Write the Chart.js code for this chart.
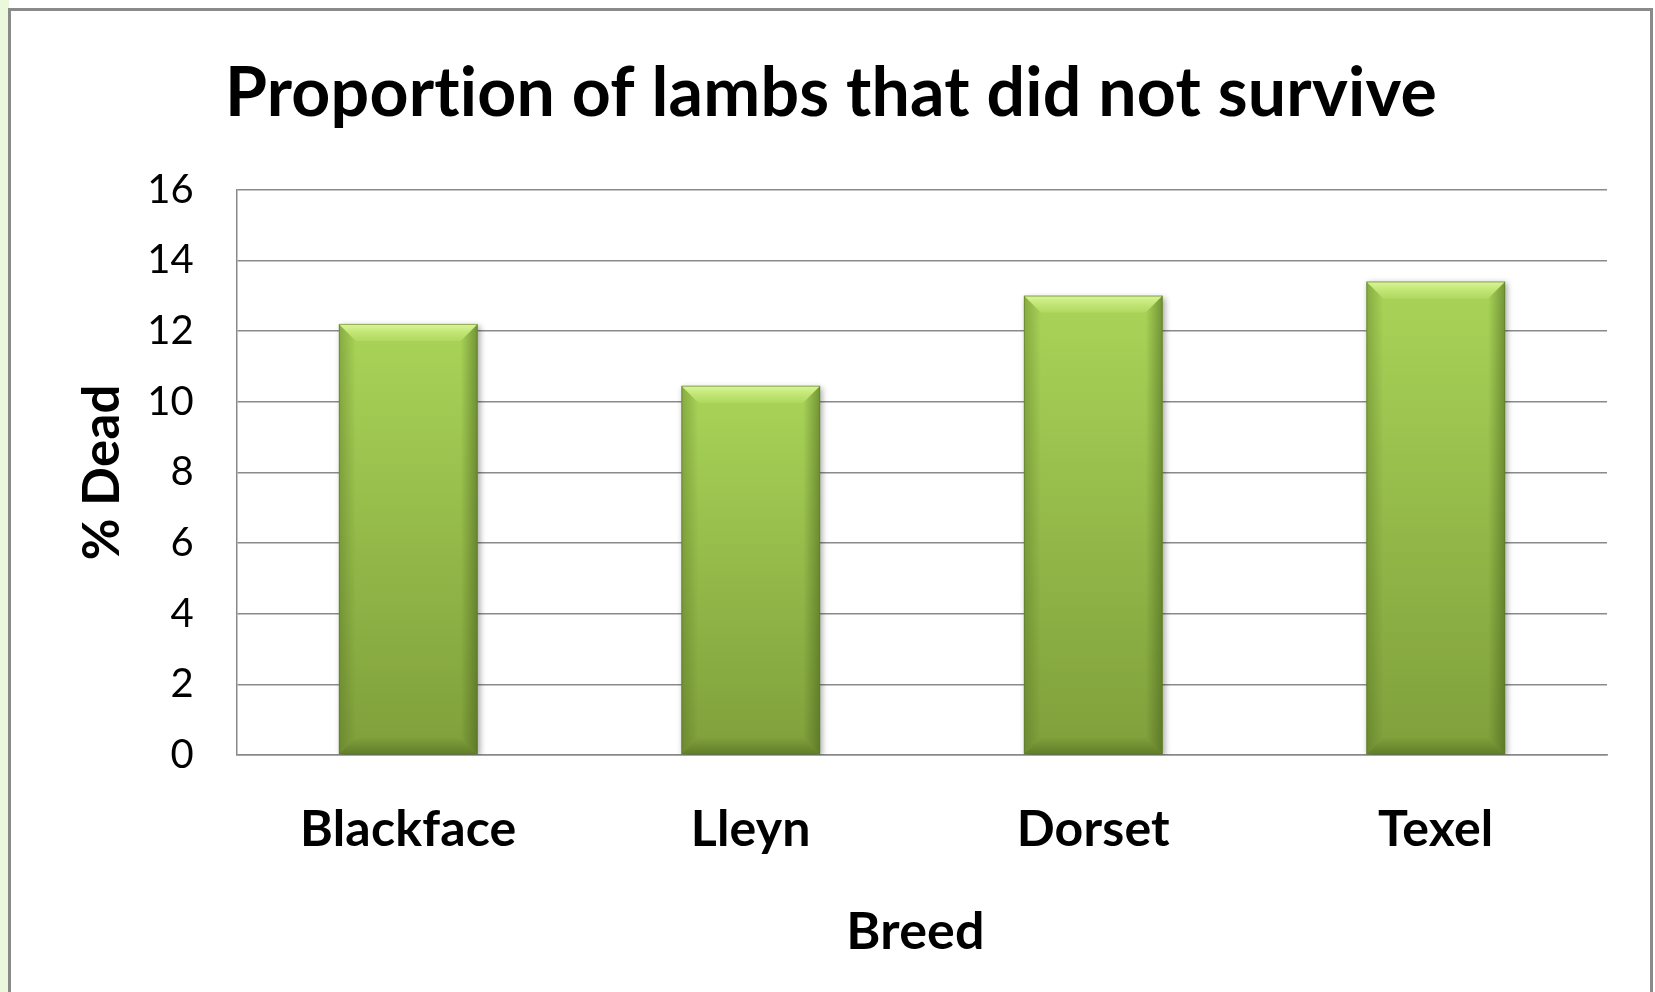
<!DOCTYPE html>
<html>
<head>
<meta charset="utf-8">
<title>Proportion of lambs that did not survive</title>
<script src="https://cdn.jsdelivr.net/npm/chart.js@4.4.1/dist/chart.umd.min.js"></script>
<style>
  html, body { margin: 0; padding: 0; background: #fff; overflow: hidden; }
  #wrap  { position: relative; width: 1655px; height: 992px; }
  #side  { position: absolute; left: 0; top: 0; width: 9px; height: 992px; background: #ebf8dc; }
  #frame { position: absolute; left: 8px; top: 8px; width: 1639px; height: 1000px; border: 3px solid #8a8a8a; }
  canvas { position: absolute; left: 0; top: 0; }
</style>
</head>
<body>
<div id="wrap">
  <div id="side"></div>
  <div id="frame"></div>
  <canvas id="chart" width="1655" height="992"></canvas>
</div>
<script>
/* ---- data ---- */
const breeds   = ['Blackface', 'Lleyn', 'Dorset', 'Texel'];
const pctDead  = [12.2, 10.45, 13.0, 13.4];
const yMin     = 0;
const yMax     = 16;
const yStep    = 2;

const FONT = 'Lato, "Open Sans", sans-serif';
const GRID = '#8a8a8a';

/* gradient for each bar, from its top down to the base */
function barFill(c) {
  const { ctx, chartArea, scales } = c.chart;
  if (!chartArea || c.raw == null) return '#93bb48';
  const top  = scales.y.getPixelForValue(c.raw);
  const base = scales.y.getPixelForValue(0);
  const g = ctx.createLinearGradient(0, top, 0, base);
  g.addColorStop(0, '#a9d458');
  g.addColorStop(1, '#7f9f3b');
  return g;
}

/* a tiny letter spacing stops the "ti" ligature of Lato */
const noLigatures = {
  id: 'noLigatures',
  beforeDraw(chart) { chart.ctx.letterSpacing = '0.2px'; },
};

/* soft shadow + bevel edges, drawn over the library's own bar elements */
const bevelPlugin = {
  id: 'bevel',
  beforeDatasetDraw(chart) {
    const ctx = chart.ctx;
    ctx.save();
    ctx.shadowColor   = 'rgba(0,0,0,0.35)';
    ctx.shadowBlur    = 6;
    ctx.shadowOffsetX = 2;
    ctx.shadowOffsetY = 2;
  },
  afterDatasetDraw(chart) {
    chart.ctx.restore();
  },
  afterDatasetsDraw(chart) {
    const ctx = chart.ctx;
    chart.getDatasetMeta(0).data.forEach(bar => {
      const { x, y, base, width } = bar.getProps(['x', 'y', 'base', 'width'], true);
      const l = x - width / 2, r = x + width / 2, t = y, b = base;
      const d = 17;
      ctx.save();

      // left edge
      let g = ctx.createLinearGradient(l, 0, l + d, 0);
      g.addColorStop(0, 'rgba(70,95,25,0.35)');
      g.addColorStop(1, 'rgba(70,95,25,0)');
      ctx.fillStyle = g;
      ctx.beginPath();
      ctx.moveTo(l, t); ctx.lineTo(l + d, t + d); ctx.lineTo(l + d, b - d); ctx.lineTo(l, b);
      ctx.closePath(); ctx.fill();

      // right edge
      g = ctx.createLinearGradient(r, 0, r - d, 0);
      g.addColorStop(0, 'rgba(60,85,20,0.5)');
      g.addColorStop(1, 'rgba(60,85,20,0)');
      ctx.fillStyle = g;
      ctx.beginPath();
      ctx.moveTo(r, t); ctx.lineTo(r - d, t + d); ctx.lineTo(r - d, b - d); ctx.lineTo(r, b);
      ctx.closePath(); ctx.fill();

      // bottom edge
      g = ctx.createLinearGradient(0, b, 0, b - d);
      g.addColorStop(0, 'rgba(60,85,20,0.45)');
      g.addColorStop(1, 'rgba(60,85,20,0)');
      ctx.fillStyle = g;
      ctx.beginPath();
      ctx.moveTo(l, b); ctx.lineTo(r, b); ctx.lineTo(r - d, b - d); ctx.lineTo(l + d, b - d);
      ctx.closePath(); ctx.fill();

      // top highlight
      g = ctx.createLinearGradient(0, t, 0, t + d);
      g.addColorStop(0, 'rgba(225,250,160,0.9)');
      g.addColorStop(1, 'rgba(195,232,115,0.35)');
      ctx.fillStyle = g;
      ctx.beginPath();
      ctx.moveTo(l, t); ctx.lineTo(r, t); ctx.lineTo(r - d, t + d); ctx.lineTo(l + d, t + d);
      ctx.closePath(); ctx.fill();

      // thin outline
      ctx.strokeStyle = 'rgba(90,120,40,0.6)';
      ctx.lineWidth = 1;
      ctx.strokeRect(l + 0.5, t + 0.5, width - 1, b - t - 1);
      ctx.restore();
    });
  }
};

new Chart(document.getElementById('chart'), {
  type: 'bar',
  data: {
    labels: breeds,
    datasets: [{
      data: pctDead,
      backgroundColor: barFill,
      borderWidth: 0,
      barPercentage: 0.405,
      categoryPercentage: 1.0,
    }],
  },
  options: {
    responsive: false,
    animation: false,
    events: [],
    // left padding pushes the chart title right, where the original sits
    layout: { padding: { left: 55, right: 48, top: 0, bottom: 0 } },
    plugins: {
      legend:  { display: false },
      tooltip: { enabled: false },
      title: {
        display: true,
        text: 'Proportion of lambs that did not survive',
        color: '#000',
        font: { family: FONT, size: 68, weight: 'bold' },
        padding: { top: 53, bottom: 55 },
      },
    },
    scales: {
      x: {
        grid:   { display: false },
        border: { display: true, color: GRID, width: 1.5 },
        ticks:  { color: '#000', padding: 37, font: { family: FONT, size: 50, weight: 'bold' } },
        title:  {
          display: true, text: 'Breed ', color: '#000',
          font: { family: FONT, size: 52, weight: 'bold' },
          padding: { top: 0, bottom: 29 },
        },
        afterFit: scale => { scale.height = 237; },
      },
      y: {
        min: yMin,
        max: yMax,
        grid:   { color: GRID, lineWidth: 1.5, drawTicks: false },
        border: { display: true, color: GRID, width: 1.5 },
        ticks:  { stepSize: yStep, color: '#000', padding: 43, font: { family: FONT, size: 40 } },
        title:  {
          display: true, text: '% Dead', color: '#000',
          font: { family: FONT, size: 51, weight: 'bold' },
          padding: { top: 17, bottom: 0 },
        },
        afterFit: scale => { scale.width = 182; },
      },
    },
  },
  plugins: [noLigatures, bevelPlugin],
});
</script>
</body>
</html>
